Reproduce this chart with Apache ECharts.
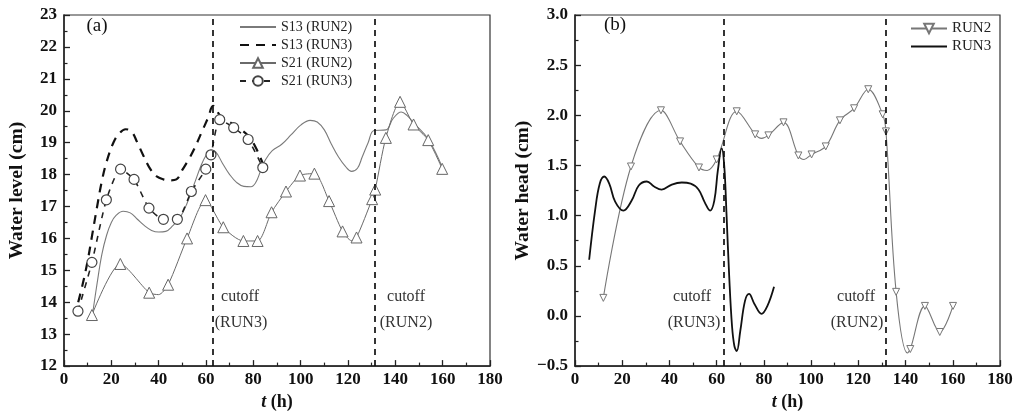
<!DOCTYPE html>
<html><head><meta charset="utf-8">
<script src="https://cdn.jsdelivr.net/npm/echarts@6/dist/echarts.min.js"></script>
<style>html,body{margin:0;padding:0;background:#fff}#c{width:1027px;height:416px}</style>
</head><body><div id="c"></div>
<script>
// ---------------- data ----------------
// (a) water level (cm) vs t (h)
const s13Run2 = [[12,13.6],[14,14.6],[16,15.5],[18,16.1],[20,16.5],[22,16.72],[25,16.85],[28,16.8],[31,16.6],[34,16.4],[37,16.25],[40,16.2],[43,16.22],[46,16.4],[49,16.65],[52,17.1],[55,17.7],[58,18.3],[60,18.6],[62,18.76],[64,18.72],[67,18.35],[70,18.0],[73,17.75],[76,17.63],[79,17.62],[81,17.75],[83,18.1],[85,18.45],[88,18.75],[92,18.95],[96,19.25],[100,19.55],[104,19.7],[107,19.65],[110,19.4],[113,18.95],[116,18.55],[119,18.25],[121.5,18.1],[124,18.2],[126,18.55],[128.5,19.0],[131,19.38],[136,19.4],[139,19.75],[142.5,19.96],[145,19.85],[148,19.6],[154,19.1],[160,18.2]];
const s13Run3 = [[6,14.0],[8,14.6],[10,15.3],[12,16.15],[14,17.0],[16,17.8],[18,18.4],[21,19.02],[23.5,19.3],[26,19.42],[28.5,19.35],[31,19.0],[33.5,18.6],[36.5,18.17],[39,17.95],[42,17.85],[45,17.82],[47.5,17.85],[50,18.15],[52.5,18.45],[55,18.8],[58,19.3],[61,19.8],[63,20.15],[66,19.85],[70,19.65],[74,19.45],[78,19.2],[81,18.85],[84,18.35]];
// [t, value, marker(1) / curve-only(0)]
const s21Run2 = [[11.8,13.6,1],[23.8,15.2,1],[36,14.3,1],[40,14.24,0],[44,14.55,1],[52,16.0,1],[59.8,17.2,1],[67.3,16.35,1],[75.8,15.92,1],[81.8,15.92,1],[87.7,16.82,1],[93.8,17.47,1],[99.7,17.97,1],[105.8,18.03,1],[112,17.17,1],[117.7,16.22,1],[121.5,15.93,0],[123.6,16.03,1],[130.2,17.23,1],[131.5,17.53,1],[136,19.15,1],[142,20.28,1],[147.7,19.57,1],[153.9,19.08,1],[159.8,18.18,1]];
const s21Run3 = [[5.9,13.72],[11.8,15.25],[17.9,17.21],[23.9,18.17],[29.6,17.85],[35.9,16.95],[42,16.6],[47.9,16.6],[53.8,17.47],[59.9,18.17],[62.1,18.62],[65.8,19.72],[71.7,19.47],[77.8,19.1],[84,18.22]];
// (b) water head (cm) vs t (h)
const run2Head = [[12,0.18,1],[23.7,1.49,1],[36.4,2.05,1],[44.5,1.74,1],[52.5,1.48,1],[56,1.45,0],[60,1.56,1],[68.5,2.04,1],[76.3,1.81,1],[79,1.77,0],[81.9,1.8,1],[88.3,1.93,1],[94.6,1.6,1],[97,1.56,0],[100.2,1.61,1],[106.2,1.69,1],[112.2,1.95,1],[118.2,2.07,1],[124.2,2.26,1],[130.3,2.01,1],[131.7,1.84,1],[136,0.24,1],[140.8,-0.37,0],[142,-0.33,1],[148.2,0.1,1],[154.5,-0.16,1],[160.1,0.1,1]];
const run3Head = [[6,0.56],[8.5,1.05],[10.5,1.32],[12.4,1.39],[14.5,1.32],[17,1.14],[20.5,1.05],[24,1.15],[27,1.3],[30.4,1.34],[33.5,1.29],[36.7,1.26],[41,1.31],[45.2,1.33],[49,1.32],[52.3,1.26],[55,1.13],[57.2,1.05],[59,1.15],[60.5,1.45],[62.1,1.67],[63.2,1.5],[64.2,1.0],[65.3,0.4],[66.5,-0.1],[67.5,-0.3],[68.5,-0.35],[70,-0.15],[72,0.15],[73.7,0.22],[76,0.12],[79,0.02],[81.5,0.1],[84.3,0.29]];
const cutoffs = [63, 131.5];
const legendA = ['S13 (RUN2)','S13 (RUN3)','S21 (RUN2)','S21 (RUN3)'];
const legendB = ['RUN2','RUN3'];
const noSymbolInLegend = ['S13 (RUN2)','S13 (RUN3)','RUN3'];

// ---------------- chart ----------------
const FF = 'Liberation Serif';
const chart = echarts.init(document.getElementById('c'), null, {renderer:'canvas'});
const mark = arr => arr.map(p => p[2] ? [p[0],p[1]] : {value:[p[0],p[1]], symbol:'none'});
const legItems = names => names.map(n => noSymbolInLegend.indexOf(n) >= 0
  ? {name:n, itemStyle:{color:'rgba(0,0,0,0)', borderColor:'rgba(0,0,0,0)', borderWidth:0, opacity:0}}
  : {name:n});

function xAxisCfg(idx){
  return {
    type:'value', gridIndex:idx, min:0, max:180, interval:20,
    axisLine:{show:true, onZero:false, lineStyle:{color:'#222', width:1.5}},
    axisTick:{show:true, inside:true, length:6, lineStyle:{color:'#222', width:1.3}},
    minorTick:{show:true, splitNumber:2, length:3.5, lineStyle:{color:'#222', width:1.2}},
    splitLine:{show:false},
    axisLabel:{fontFamily:FF, fontWeight:'bold', fontSize:17, color:'#111', margin:5},
    name:'{i|t} (h)', nameLocation:'middle', nameGap:16,
    nameTextStyle:{fontFamily:FF, fontWeight:'bold', fontSize:18, color:'#111',
      rich:{i:{fontFamily:FF, fontStyle:'italic', fontWeight:'bold', fontSize:18, color:'#111'}}}
  };
}
function yAxisCfg(idx, min, max, interval, name, fmt){
  return {
    type:'value', gridIndex:idx, min:min, max:max, interval:interval,
    axisLine:{show:true, onZero:false, lineStyle:{color:'#222', width:1.5}},
    axisTick:{show:true, inside:true, length:6, lineStyle:{color:'#222', width:1.3}},
    minorTick:{show:true, splitNumber:2, length:3.5, lineStyle:{color:'#222', width:1.2}},
    splitLine:{show:false},
    axisLabel:{fontFamily:FF, fontWeight:'bold', fontSize:17, color:'#111', margin:7, formatter:fmt},
    name:name, nameLocation:'middle', nameGap:37, nameRotate:90,
    nameTextStyle:{fontFamily:FF, fontWeight:'bold', fontSize:19.5, color:'#111'}
  };
}
const cutLine = {
  silent:true, symbol:['none','none'], label:{show:false},
  lineStyle:{type:[6,5], color:'#111', width:1.7},
  data: cutoffs.map(c => ({xAxis:c}))
};
const txt = (x,y,t,size,fill) => ({type:'text', x:x, y:y, silent:true,
  style:{text:t, align:'center', verticalAlign:'middle', fontFamily:FF, fontSize:size, fill:fill||'#333'}});

chart.setOption({
  animation:false,
  backgroundColor:'#fff',
  grid:[
    {left:64, right:537, top:15, bottom:35, show:true, borderColor:'#333', borderWidth:1.2},
    {left:575, right:27, top:15, bottom:35, show:true, borderColor:'#333', borderWidth:1.2}
  ],
  xAxis:[xAxisCfg(0), xAxisCfg(1)],
  yAxis:[
    yAxisCfg(0, 12, 23, 1, 'Water level (cm)', v => String(v)),
    yAxisCfg(1, -0.5, 3.0, 0.5, 'Water head (cm)', v => (v < 0 ? '\u2212' : '') + Math.abs(v).toFixed(1))
  ],
  legend:[
    {data:legItems(legendA), orient:'vertical', left:234, top:15, itemGap:4, itemWidth:36, itemHeight:12,
     textStyle:{fontFamily:FF, fontSize:14, color:'#222'}, selectedMode:false},
    {data:legItems(legendB), orient:'vertical', left:905, top:16, itemGap:3, itemWidth:36, itemHeight:12,
     textStyle:{fontFamily:FF, fontSize:15, color:'#222'}, selectedMode:false}
  ],
  graphic:[
    txt(97, 26, '(a)', 19, '#111'),
    txt(615, 25, '(b)', 19, '#111'),
    txt(240, 297, 'cutoff', 16), txt(241, 323, '(RUN3)', 16),
    txt(406, 297, 'cutoff', 16), txt(406, 323, '(RUN2)', 16),
    txt(692, 297, 'cutoff', 16), txt(694, 323, '(RUN3)', 16),
    txt(856, 297, 'cutoff', 16), txt(857, 323, '(RUN2)', 16)
  ],
  series:[
    {name:'S13 (RUN2)', type:'line', xAxisIndex:0, yAxisIndex:0, data:s13Run2, smooth:0.4, symbol:'none',
     itemStyle:{color:'#7a7a7a'}, lineStyle:{color:'#7a7a7a', width:1.1}, z:2, markLine:cutLine},
    {name:'S13 (RUN3)', type:'line', xAxisIndex:0, yAxisIndex:0, data:s13Run3, smooth:0.4, symbol:'none',
     itemStyle:{color:'#111'}, lineStyle:{color:'#111', width:2.2, type:[9,7]}, z:3},
    {name:'S21 (RUN2)', type:'line', xAxisIndex:0, yAxisIndex:0, data:mark(s21Run2), smooth:0.25,
     symbol:'triangle', symbolSize:11, showAllSymbol:true,
     itemStyle:{color:'#fff', borderColor:'#666', borderWidth:1}, lineStyle:{color:'#6a6a6a', width:1}, z:4},
    {name:'S21 (RUN3)', type:'line', xAxisIndex:0, yAxisIndex:0, data:s21Run3, smooth:0.2,
     symbol:'circle', symbolSize:10, showAllSymbol:true,
     itemStyle:{color:'#fff', borderColor:'#444', borderWidth:1.2}, lineStyle:{color:'#222', width:1.6, type:[6,6]}, z:4},
    {name:'RUN2', type:'line', xAxisIndex:1, yAxisIndex:1, data:mark(run2Head), smooth:0.35,
     symbol:'triangle', symbolRotate:180, symbolSize:7, showAllSymbol:true,
     itemStyle:{color:'#fff', borderColor:'#777', borderWidth:1}, lineStyle:{color:'#777', width:1.1}, z:3, markLine:cutLine},
    {name:'RUN3', type:'line', xAxisIndex:1, yAxisIndex:1, data:run3Head, smooth:0.4, symbol:'none',
     itemStyle:{color:'#111'}, lineStyle:{color:'#111', width:1.8}, z:4}
  ]
});
</script>
</body></html>
